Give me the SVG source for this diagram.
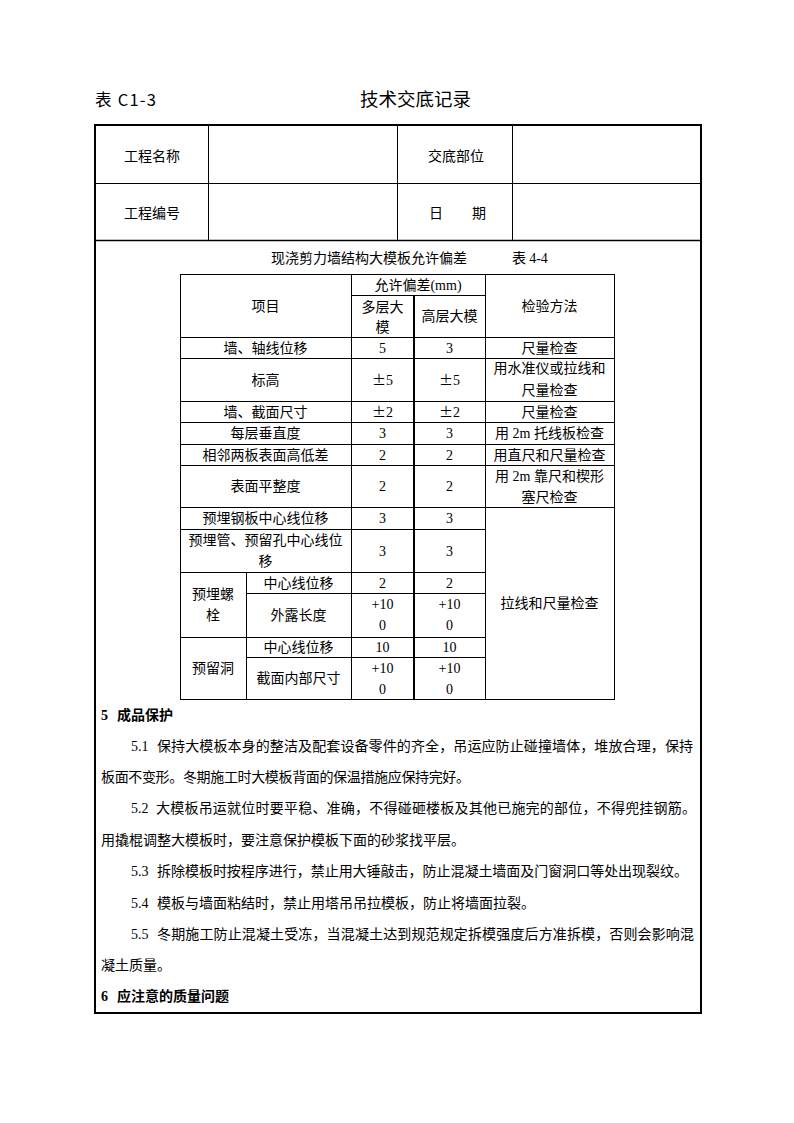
<svg xmlns="http://www.w3.org/2000/svg" width="794" height="1123" viewBox="0 0 794 1123">
<style>
text{font-family:"Noto Sans CJK SC","Liberation Sans",sans-serif;font-size:14px;fill:#000}
.c{text-anchor:middle}
.n{font-family:"Liberation Serif","Noto Sans CJK SC",serif}
.b{font-weight:bold}
.t{font-size:18.5px}
.h{font-size:16.5px}
.l{stroke:#000;stroke-width:1;fill:none}
.k{stroke:#000;stroke-width:2;fill:none}
</style>
<rect width="794" height="1123" fill="#fff"/>
<g id="title">
<text class="h" x="95" y="106" textLength="61" lengthAdjust="spacing">表 C1-3</text>
<text class="t" x="360" y="106">技术交底记录</text>
</g>
<g id="frame">
<rect class="k" x="95" y="125" width="606" height="888"/>
<line class="l" x1="95" y1="183.5" x2="701" y2="183.5"/>
<line class="l" x1="95" y1="240.5" x2="701" y2="240.5" style="stroke-width:1.5"/>
<line class="l" x1="208.5" y1="125" x2="208.5" y2="240"/>
<line class="l" x1="397.5" y1="125" x2="397.5" y2="240"/>
<line class="l" x1="512.5" y1="125" x2="512.5" y2="240"/>
</g>
<g id="header">
<text class="c" x="152" y="161">工程名称</text>
<text class="c" x="456" y="161">交底部位</text>
<text class="c" x="152" y="218">工程编号</text>
<text x="429" y="218">日</text>
<text x="472" y="218">期</text>
</g>
<g id="caption">
<text x="271" y="263">现浇剪力墙结构大模板允许偏差</text>
<text x="512" y="263">表 <tspan class="n">4-4</tspan></text>
</g>
<g id="table-lines">
<line class="l" x1="180" y1="274.5" x2="614" y2="274.5"/>
<line class="l" x1="351" y1="295.5" x2="485" y2="295.5"/>
<line class="l" x1="180" y1="337.5" x2="614" y2="337.5"/>
<line class="l" x1="180" y1="358.5" x2="614" y2="358.5"/>
<line class="l" x1="180" y1="401.5" x2="614" y2="401.5"/>
<line class="l" x1="180" y1="422.5" x2="614" y2="422.5"/>
<line class="l" x1="180" y1="444.5" x2="614" y2="444.5"/>
<line class="l" x1="180" y1="465.5" x2="614" y2="465.5"/>
<line class="l" x1="180" y1="507.5" x2="614" y2="507.5"/>
<line class="l" x1="180" y1="529.5" x2="485" y2="529.5"/>
<line class="l" x1="180" y1="572.5" x2="485" y2="572.5"/>
<line class="l" x1="246" y1="593.5" x2="485" y2="593.5"/>
<line class="l" x1="180" y1="637.5" x2="485" y2="637.5"/>
<line class="l" x1="246" y1="657.5" x2="485" y2="657.5"/>
<line class="l" x1="180" y1="699.5" x2="614" y2="699.5"/>
<line class="l" x1="180.5" y1="274" x2="180.5" y2="700"/>
<line class="l" x1="351.5" y1="274" x2="351.5" y2="700"/>
<line class="k" x1="414" y1="295" x2="414" y2="700"/>
<line class="l" x1="485.5" y1="274" x2="485.5" y2="700"/>
<line class="l" x1="614.5" y1="274" x2="614.5" y2="700"/>
<line class="l" x1="246.5" y1="572" x2="246.5" y2="700"/>
</g>
<g id="table-head">
<text class="c" x="265.5" y="311">项目</text>
<text class="c" x="418" y="290">允许偏差<tspan class="n">(mm)</tspan></text>
<text class="c" x="382.5" y="312">多层大</text>
<text class="c" x="382.5" y="332">模</text>
<text class="c" x="449.5" y="321">高层大模</text>
<text class="c" x="549.5" y="311">检验方法</text>
</g>
<g id="table-body">
<text class="c" x="265.5" y="352.5">墙、轴线位移</text>
<text class="c n" x="382.5" y="352.5">5</text>
<text class="c n" x="449.5" y="352.5">3</text>
<text class="c" x="549.5" y="352.5">尺量检查</text>

<text class="c" x="265.5" y="384.5">标高</text>
<text class="c" x="382.5" y="384.5">±<tspan class="n">5</tspan></text>
<text class="c" x="449.5" y="384.5">±<tspan class="n">5</tspan></text>
<text class="c" x="549.5" y="373">用水准仪或拉线和</text>
<text class="c" x="549.5" y="395">尺量检查</text>

<text class="c" x="265.5" y="416.5">墙、截面尺寸</text>
<text class="c" x="382.5" y="416.5">±<tspan class="n">2</tspan></text>
<text class="c" x="449.5" y="416.5">±<tspan class="n">2</tspan></text>
<text class="c" x="549.5" y="416.5">尺量检查</text>

<text class="c" x="265.5" y="438">每层垂直度</text>
<text class="c n" x="382.5" y="438">3</text>
<text class="c n" x="449.5" y="438">3</text>
<text class="c" x="549.5" y="438">用<tspan class="n"> 2m </tspan>托线板检查</text>

<text class="c" x="265.5" y="459.5">相邻两板表面高低差</text>
<text class="c n" x="382.5" y="459.5">2</text>
<text class="c n" x="449.5" y="459.5">2</text>
<text class="c" x="549.5" y="459.5">用直尺和尺量检查</text>

<text class="c" x="265.5" y="491">表面平整度</text>
<text class="c n" x="382.5" y="491">2</text>
<text class="c n" x="449.5" y="491">2</text>
<text class="c" x="549.5" y="481">用<tspan class="n"> 2m </tspan>靠尺和楔形</text>
<text class="c" x="549.5" y="502">塞尺检查</text>

<text class="c" x="265.5" y="523">预埋钢板中心线位移</text>
<text class="c n" x="382.5" y="523">3</text>
<text class="c n" x="449.5" y="523">3</text>

<text class="c" x="265.5" y="545">预埋管、预留孔中心线位</text>
<text class="c" x="265.5" y="566">移</text>
<text class="c n" x="382.5" y="555.5">3</text>
<text class="c n" x="449.5" y="555.5">3</text>

<text class="c" x="213" y="599">预埋螺</text>
<text class="c" x="213" y="620">栓</text>
<text class="c" x="298.5" y="587.5">中心线位移</text>
<text class="c n" x="382.5" y="587.5">2</text>
<text class="c n" x="449.5" y="587.5">2</text>
<text class="c" x="298.5" y="620">外露长度</text>
<text class="c n" x="382.5" y="609">+10</text>
<text class="c n" x="382.5" y="630">0</text>
<text class="c n" x="449.5" y="609">+10</text>
<text class="c n" x="449.5" y="630">0</text>

<text class="c" x="213" y="673">预留洞</text>
<text class="c" x="298.5" y="652">中心线位移</text>
<text class="c n" x="382.5" y="652">10</text>
<text class="c n" x="449.5" y="652">10</text>
<text class="c" x="298.5" y="683">截面内部尺寸</text>
<text class="c n" x="382.5" y="673">+10</text>
<text class="c n" x="382.5" y="694">0</text>
<text class="c n" x="449.5" y="673">+10</text>
<text class="c n" x="449.5" y="694">0</text>

<text class="c" x="549.5" y="608">拉线和尺量检查</text>
</g>
<g id="section5">
<text class="b" x="101" y="720"><tspan class="n">5</tspan></text>
<text class="b" x="117" y="720">成品保护</text>
<text class="n" x="131" y="751">5.1</text>
<text x="157" y="751" textLength="536" lengthAdjust="spacing">保持大模板本身的整洁及配套设备零件的齐全，吊运应防止碰撞墙体，堆放合理，保持</text>
<text x="101" y="782" textLength="369" lengthAdjust="spacing">板面不变形。冬期施工时大模板背面的保温措施应保持完好。</text>
<text class="n" x="131" y="813">5.2</text>
<text x="156" y="813" textLength="540" lengthAdjust="spacing">大模板吊运就位时要平稳、准确，不得碰砸楼板及其他已施完的部位，不得兜挂钢筋。</text>
<text x="101" y="845">用撬棍调整大模板时，要注意保护模板下面的砂浆找平层。</text>
<text class="n" x="131" y="876">5.3</text>
<text x="157" y="876" textLength="531" lengthAdjust="spacing">拆除模板时按程序进行，禁止用大锤敲击，防止混凝土墙面及门窗洞口等处出现裂纹。</text>
<text class="n" x="131" y="908">5.4</text>
<text x="157" y="908">模板与墙面粘结时，禁止用塔吊吊拉模板，防止将墙面拉裂。</text>
<text class="n" x="131" y="939">5.5</text>
<text x="157" y="939" textLength="537" lengthAdjust="spacing">冬期施工防止混凝土受冻，当混凝土达到规范规定拆模强度后方准拆模，否则会影响混</text>
<text x="101" y="970">凝土质量。</text>
</g>
<g id="section6">
<text class="b" x="101" y="1001"><tspan class="n">6</tspan></text>
<text class="b" x="117" y="1001">应注意的质量问题</text>
</g>
</svg>
